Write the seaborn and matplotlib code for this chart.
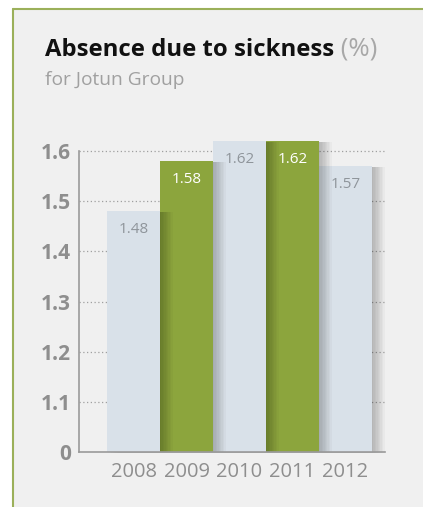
import matplotlib
matplotlib.use("Agg")
import matplotlib.pyplot as plt
import matplotlib.patheffects as pe
from matplotlib.lines import Line2D
from matplotlib.patches import Rectangle
import seaborn as sns
import pandas as pd

years = ["2008", "2009", "2010", "2011", "2012"]
values = [1.48, 1.58, 1.62, 1.62, 1.57]
bar_colors = ["#d9e1e9", "#8ca53d", "#d9e1e9", "#8ca53d", "#d9e1e9"]
label_colors = ["#8f959b", "#ffffff", "#8f959b", "#ffffff", "#8f959b"]
y_ticks = [1.0, 1.1, 1.2, 1.3, 1.4, 1.5, 1.6]
y_tick_labels = ["0", "1.1", "1.2", "1.3", "1.4", "1.5", "1.6"]
axis_base = 1.0  # the axis is broken: "0" sits where 1.0 would be

df = pd.DataFrame({"year": years, "value": values})

sns.set_style("white")
plt.rcParams["font.family"] = ["Open Sans", "DejaVu Sans"]

fig = plt.figure(figsize=(4.23, 5.07), dpi=100, facecolor="white")

# panel background with green frame on left and top
W, H = 423, 507
fig.patches.append(Rectangle((13 / W, 0), 1, 1 - 9 / H, transform=fig.transFigure,
                             facecolor="#f0f0f0", edgecolor="none", zorder=-5))
fig.lines.append(Line2D([13 / W, 13 / W], [0, 1 - 9 / H], transform=fig.transFigure,
                        color="#9bb05a", lw=1.5, zorder=-4))
fig.lines.append(Line2D([13 / W, 1], [1 - 9 / H, 1 - 9 / H], transform=fig.transFigure,
                        color="#9bb05a", lw=1.5, zorder=-4))

ax = fig.add_axes([79 / W, 1 - 452 / H, 306 / W, (452 - 151) / H])
ax.set_facecolor("none")

sns.barplot(data=df, x="year", y="value", hue="year", palette=bar_colors,
            width=1.0, saturation=1, legend=False, ax=ax, linewidth=0)

# soft drop shadow built from a few stacked offsets
shadow = [pe.SimplePatchShadow(offset=(k, -0.5), shadow_rgbFace="#000000", alpha=0.028)
          for k in range(1, 10)] + [pe.Normal()]
n = len(ax.patches)
for i, bar in enumerate(ax.patches):
    # keep the base at the broken-axis origin
    top = bar.get_y() + bar.get_height()
    bar.set_y(axis_base)
    bar.set_height(top - axis_base)
    bar.set_clip_on(False)
    bar.set_path_effects(shadow)
    bar.set_zorder(3 + (n - i) * 0.01)

for i, (v, c) in enumerate(zip(values, label_colors)):
    ax.annotate(f"{v:.2f}", xy=(i, v), xytext=(0, -13), textcoords="offset points",
                ha="center", va="center", fontsize=11, color=c, zorder=5,
                annotation_clip=False)

ax.set_ylim(1.0, 1.6)
ax.set_xlim(-1.03, 4.745)
ax.set_yticks(y_ticks)
ax.set_yticklabels(y_tick_labels, fontsize=15, fontweight="bold", color="#8e8e8e")
ax.tick_params(axis="y", length=0, pad=6)
ax.tick_params(axis="x", length=0, pad=7, labelsize=14.5, labelcolor="#8e8e8e")

for yv in y_ticks[1:]:
    ax.axhline(yv, color="#a0a0a0", lw=0.9, ls=(0, (1, 2)), zorder=1, clip_on=False)

sns.despine(ax=ax, top=True, right=True)
for side in ["left", "bottom"]:
    ax.spines[side].set_color("#9a9a9a")
    ax.spines[side].set_linewidth(1.2)
    ax.spines[side].set_zorder(4)
ax.set_xlabel("")
ax.set_ylabel("")

title = fig.text(45 / W, 1 - 56 / H, "Absence due to sickness", fontsize=17.2,
                 fontweight="bold", color="#111111", ha="left", va="baseline")
ax.annotate(" (%)", xy=(1, 0), xycoords=title, ha="left", va="bottom",
            fontsize=18.5, color="#a8a8a8", annotation_clip=False)
fig.text(45 / W, 1 - 85 / H, "for Jotun Group", fontsize=13.8, color="#a0a0a0",
         ha="left", va="baseline")

fig.savefig("out.png", dpi=100, facecolor="white")
